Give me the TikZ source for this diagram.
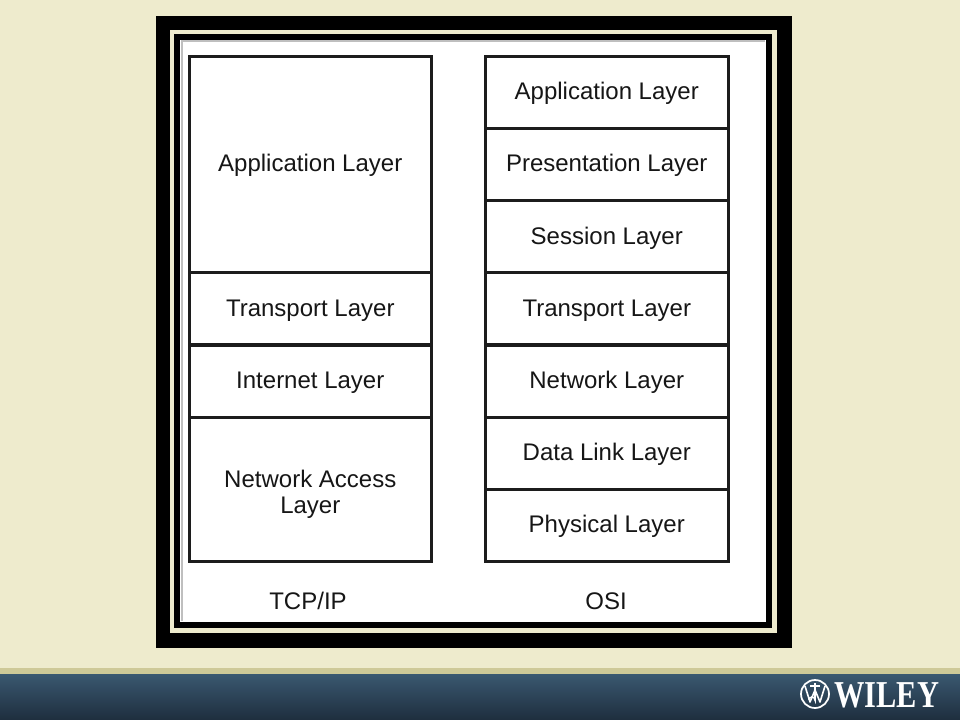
\documentclass[tikz,border=0pt]{standalone}
\usepackage{fontspec}
\setmainfont{Liberation Sans}
\newfontfamily\wileyfont{Liberation Serif}
\definecolor{cream}{RGB}{238,235,205}
\definecolor{stripe}{RGB}{206,201,152}
\definecolor{bartop}{RGB}{58,88,112}
\definecolor{barbot}{RGB}{30,46,62}
\definecolor{linegray}{RGB}{28,28,28}
\definecolor{textgray}{RGB}{22,22,22}
\begin{document}
\begin{tikzpicture}[x=0.75pt,y=-0.75pt,
  layerbox/.style={draw=linegray, line width=1.9pt, fill=white, text=textgray,
    font=\fontsize{18}{19.5}\selectfont, align=center, anchor=north west,
    inner sep=0pt, minimum height=54pt},
  tcpbox/.style={layerbox, minimum width=181.5pt},
  osibox/.style={layerbox, minimum width=182.25pt},
  lbl/.style={text=textgray, font=\fontsize{18}{19.5}\selectfont, align=center, inner sep=0pt},
  caption/.style={lbl}]
\useasboundingbox (0,0) rectangle (960,720);
% background
\fill[cream] (0,0) rectangle (960,720);
\fill[stripe] (0,668) rectangle (960,674);
\shade[top color=bartop, bottom color=barbot] (0,674) rectangle (960,720);
% frame
\fill[black] (156,16) rectangle (792,648);
\fill[cream] (170,30) rectangle (777,633);
\fill[black] (174,34) rectangle (772,628);
\fill[white] (180,40) rectangle (766,622);
\draw[black!25, line width=1.5pt] (181.5,621) -- (181.5,41.5) -- (765,41.5);
% TCP/IP column
\node[tcpbox, minimum height=162pt] (tapp) at (188,55) {};
\node[tcpbox] (ttra) at (188,271) {};
\node[tcpbox] (tint) at (188,344) {};
\node[tcpbox, minimum height=108pt] (tnet) at (188,416) {};
\node[lbl] (tappl) at ([yshift=-1pt]tapp.center) {Application Layer};
\node[lbl] (ttral) at ([yshift=-1.5pt]ttra.center) {Transport Layer};
\node[lbl] (tintl) at ([yshift=-1pt]tint.center) {Internet Layer};
\node[lbl] (tnetl) at ([yshift=-4pt]tnet.center) {Network Access\\Layer};
% OSI column
\node[osibox] (oapp) at (484,55) {};
\node[osibox] (opre) at (484,127) {};
\node[osibox] (oses) at (484,199) {};
\node[osibox] (otra) at (484,271) {};
\node[osibox] (onet) at (484,344) {};
\node[osibox] (odat) at (484,416) {};
\node[osibox] (ophy) at (484,488) {};
\node[lbl] (oappl) at ([yshift=-1pt]oapp.center) {Application Layer};
\node[lbl] (oprel) at ([yshift=-1pt]opre.center) {Presentation Layer};
\node[lbl] (osesl) at ([yshift=-1.5pt]oses.center) {Session Layer};
\node[lbl] (otral) at ([yshift=-1.5pt]otra.center) {Transport Layer};
\node[lbl] (onetl) at ([yshift=-1pt]onet.center) {Network Layer};
\node[lbl] (odatl) at ([yshift=-1pt]odat.center) {Data Link Layer};
\node[lbl] (ophyl) at ([yshift=-1pt]ophy.center) {Physical Layer};
% captions
\node[caption] (tcap) at (308,601) {TCP/IP};
\node[caption] (ocap) at (606,601) {OSI};
% Wiley logo
\draw[white, line width=1.3pt] (815,694) circle (14);
\draw[white, line width=1.2pt, line join=round]
  (805,686) -- (810,702) -- (815,690) -- (820,702) -- (825,686);
\draw[white, line width=1.2pt] (815,683) -- (815,700) arc (0:-180:3);
\draw[white, line width=1.2pt] (810,686) -- (820,686);
\node[white, anchor=west, inner sep=0pt, xscale=0.8,
  font=\wileyfont\bfseries\fontsize{28.5}{30}\selectfont] (wiley) at (834,695) {WILEY};
\end{tikzpicture}
\end{document}
